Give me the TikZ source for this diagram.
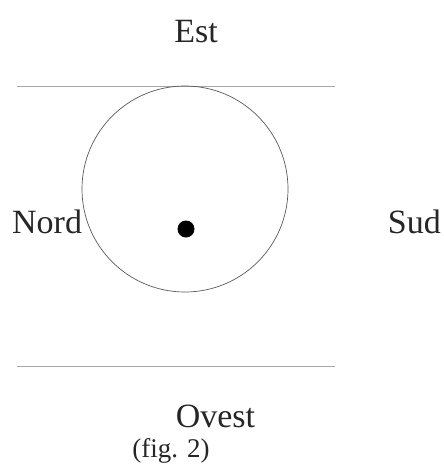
\documentclass[tikz,border=0pt]{standalone}
\usepackage{fontspec}
\setmainfont{Liberation Serif}
\usetikzlibrary{positioning}

\begin{document}
\begin{tikzpicture}[
    x=1pt, y=-1pt,
    every node/.style={inner sep=0pt, text=black!85},
    point/.style={font=\fontsize{34}{40}\selectfont},
    caption/.style={font=\fontsize{27}{32}\selectfont},
    horizon/.style={draw=black!35, line width=0.8pt},
]
  \useasboundingbox (0,0) rectangle (444,464);
  % horizon lines
  \coordinate (tl) at (17,86);
  \coordinate (tr) at (335,86);
  \coordinate (bl) at (17,366);
  \coordinate (br) at (335,366);
  \draw[horizon] (tl) -- (tr);
  \draw[horizon] (bl) -- (br);
  % sphere and centre
  \node[draw=black!65, line width=0.7pt, circle, minimum size=206pt] (sphere) at (185,189) {};
  \node[fill=black, circle, minimum size=17pt] (dot) at (186,229) {};
  % cardinal points
  \node[point, anchor=base] (est) at (196,42) {Est};
  \node[point, anchor=base west] (nord) at (12,233) {Nord};
  \node[point, anchor=base east] (sud) at (441,233) {Sud};
  \node[point, anchor=base] (ovest) at (215.5,427) {Ovest};
  \node[caption, anchor=base] (fig) at (171,457) {(fig. 2)};
\end{tikzpicture}
\end{document}
